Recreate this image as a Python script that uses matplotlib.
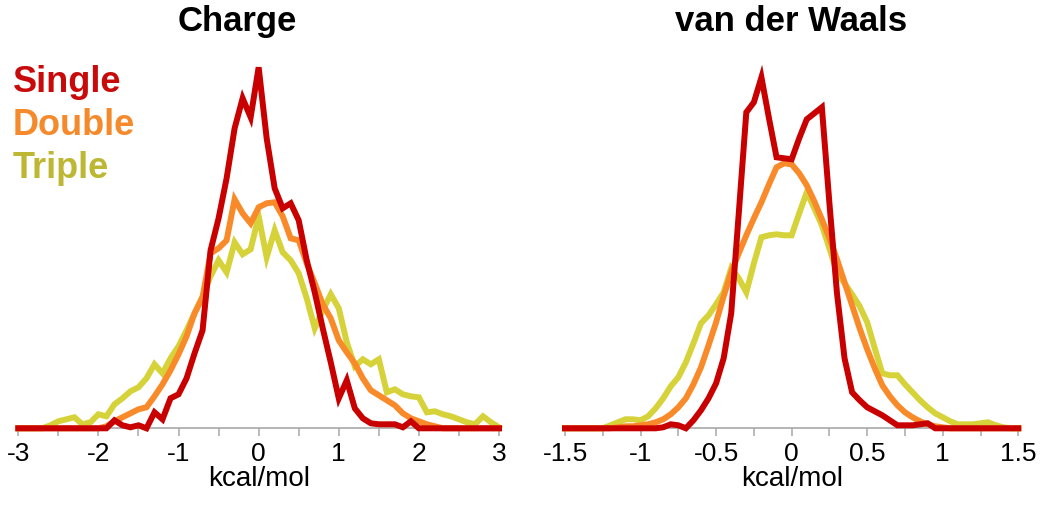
import numpy as np
import matplotlib
matplotlib.use("Agg")
import matplotlib.pyplot as plt

# ---------------- data ----------------
charge_x = np.round(np.arange(-3.0, 3.0001, 0.1), 2)
charge_single = [0, 0, 0, 0, 0, 0, 0, 0, 0, 0, 0, 0,
                 8, 3, 1, 3, 0, 16, 9, 30, 34, 50, 75, 98, 178, 210, 250, 300, 330, 311,
                 361,
                 290, 240, 220, 225, 208, 168, 136, 100, 66, 30, 48, 20, 10, 5, 4, 4, 4, 1, 7,
                 0, 0, 0, 0, 0, 0, 0, 0, 0, 0, 0]
charge_double = [0, 0, 0, 0, 0, 0, 0, 0, 0, 0, 0,
                 2, 7, 11, 15, 19, 21, 32, 44, 58, 74, 92, 115, 131, 175, 180, 188, 229, 215, 205,
                 221,
                 225, 226, 212, 190, 188, 165, 145, 124, 110, 88, 76, 65, 50, 38, 33, 28, 23, 15, 10,
                 7, 4, 2, 0, 0, 0, 0, 0, 0, 0, 0]
charge_triple = [0, 0, 0, 0, 3, 7, 9, 11, 4, 6, 14, 12,
                 24, 30, 37, 41, 50, 64, 55, 70, 82, 98, 115, 132, 152, 168, 156, 186, 174, 179,
                 212,
                 171, 198, 176, 168, 155, 130, 100, 118, 134, 120, 86, 62, 69, 64, 69, 36, 39, 34, 32,
                 31, 16, 17, 14, 12, 9, 6, 4, 12, 6, 1]

vdw_x = np.round(np.arange(-1.5, 1.5001, 0.05), 3)
vdw_single = [0, 0, 0, 0, 0, 0, 0, 0, 0, 0, 0, 0, 0,
              1, 4, 3, 0, 8, 18, 30, 45, 70, 115, 215, 316, 326, 351, 310, 271, 270,
              269,
              290, 309, 315, 321, 225, 135, 70, 36, 28, 21, 17, 13, 8, 3, 3, 3, 4, 5, 0,
              0, 0, 0, 0, 0, 0, 0, 0, 0, 0, 0]
vdw_double = [0, 0, 0, 0, 0, 0, 0,
              1, 2, 2, 3, 4, 6, 9, 14, 21, 30, 44, 61, 83, 106, 132, 156, 175, 193, 210, 226, 244, 261, 265,
              264,
              255, 243, 227, 209, 190, 169, 146, 123, 100, 79, 60, 43, 32, 23, 16, 11, 7, 4, 2, 1,
              0, 0, 0, 0, 0, 0, 0, 0, 0, 0]
vdw_triple = [0, 0, 0, 0, 0, 0,
              3, 6, 9, 9, 8, 12, 20, 30, 42, 51, 66, 85, 105, 113, 124, 136, 160, 150, 136, 165, 191, 193, 194, 193,
              193,
              215, 236, 220, 203, 180, 156, 145, 134, 122, 106, 80, 55, 53, 53, 44, 36, 28, 21, 15, 11,
              7, 4, 4, 4, 5, 6, 3, 1, 0, 0]

series_names = ["Single", "Double", "Triple"]
line_colors = ["#C80000", "#F98A2A", "#D6D23A"]
text_colors = ["#C80A0A", "#F58A2C", "#BDB733"]

charge_ticks = np.round(np.arange(-3.0, 3.0001, 0.5), 2)
charge_labels = ["-3", "", "-2", "", "-1", "", "0", "", "1", "", "2", "", "3"]
vdw_ticks = np.round(np.arange(-1.5, 1.5001, 0.25), 3)
vdw_labels = ["-1.5", "", "-1", "", "-0.5", "", "0", "", "0.5", "", "1", "", "1.5"]

# ---------------- figure ----------------
W, H = 1050, 510
fig = plt.figure(figsize=(W / 100, H / 100), dpi=100)

narrow = ["Liberation Sans Narrow", "Liberation Sans", "DejaVu Sans"]
bold = ["Liberation Sans", "DejaVu Sans"]

def px_axes(x0, x1, ybase, height):
    return fig.add_axes([x0 / W, (H - ybase) / H, (x1 - x0) / W, height / H])

YTOP = 370
ax1 = px_axes(18.3, 499, 429.3, YTOP)
ax2 = px_axes(565, 1018.3, 429.3, YTOP)

def style(ax, xlim, ticks, labels):
    ax.set_xlim(*xlim)
    ax.set_ylim(0, YTOP)
    for s in ["left", "right", "top"]:
        ax.spines[s].set_visible(False)
    ax.spines["bottom"].set_color("#A8A8A8")
    ax.spines["bottom"].set_linewidth(1.2)
    ax.set_yticks([])
    ax.set_xticks(ticks)
    ax.set_xticklabels(labels, family=narrow, fontsize=19)
    ax.tick_params(axis="x", direction="out", length=6, width=1.1,
                   color="#A8A8A8", pad=3)
    ax.set_xlabel("kcal/mol", family=narrow, fontsize=20, labelpad=0)
    ax.patch.set_alpha(0)

style(ax1, (-3, 3), charge_ticks, charge_labels)
style(ax2, (-1.5, 1.5), vdw_ticks, vdw_labels)

for ys, c, z in zip([charge_triple, charge_double, charge_single], line_colors[::-1], [2, 3, 4]):
    ax1.plot(charge_x, ys, color=c, lw=4.3, solid_joinstyle="miter", zorder=z, clip_on=False)
for ys, c, z in zip([vdw_triple, vdw_double, vdw_single], line_colors[::-1], [2, 3, 4]):
    ax2.plot(vdw_x, ys, color=c, lw=4.3, solid_joinstyle="miter", zorder=z, clip_on=False)

# titles
fig.text(237 / W, (H - 31) / H, "Charge", family=bold, fontweight="bold",
         fontsize=25, ha="center", va="baseline")
fig.text(791 / W, (H - 31) / H, "van der Waals", family=bold, fontweight="bold",
         fontsize=25, ha="center", va="baseline")

# colored legend text
for name, col, yb in zip(series_names, text_colors, [92, 135, 178]):
    fig.text(13 / W, (H - yb) / H, name, family=bold, fontweight="bold",
             fontsize=26, color=col, ha="left", va="baseline")

fig.savefig("out.png", dpi=100)
